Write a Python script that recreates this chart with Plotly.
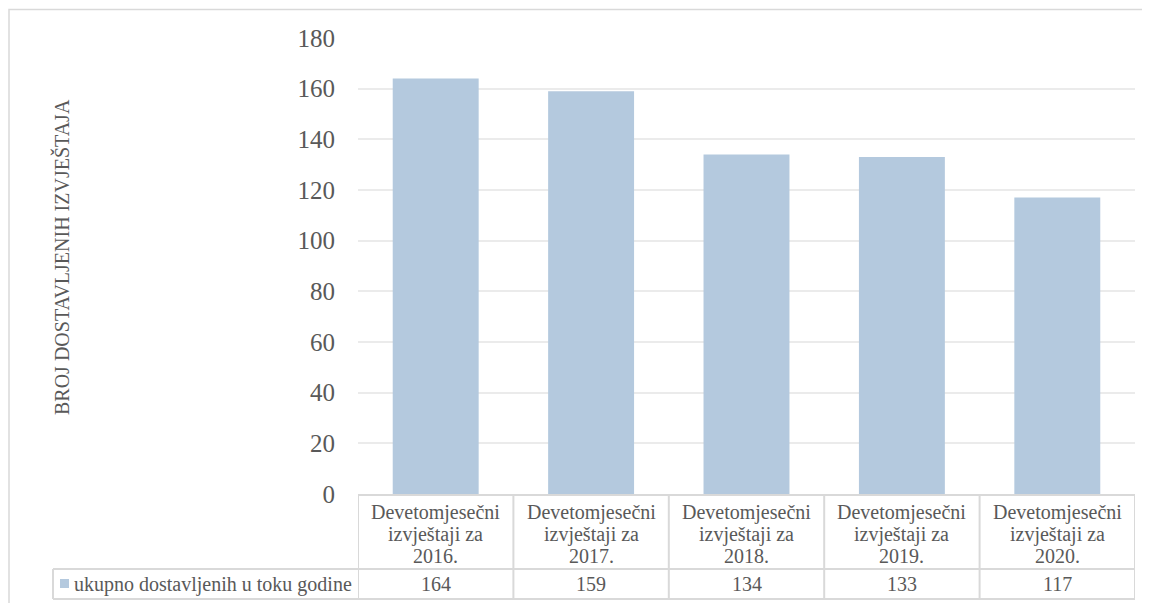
import plotly.graph_objects as go

categories = ["Devetomjesečni izvještaji za 2016.", "Devetomjesečni izvještaji za 2017.",
              "Devetomjesečni izvještaji za 2018.", "Devetomjesečni izvještaji za 2019.",
              "Devetomjesečni izvještaji za 2020."]
header_lines = [["Devetomjesečni", "izvještaji za", "2016."],
                ["Devetomjesečni", "izvještaji za", "2017."],
                ["Devetomjesečni", "izvještaji za", "2018."],
                ["Devetomjesečni", "izvještaji za", "2019."],
                ["Devetomjesečni", "izvještaji za", "2020."]]
values = [164, 159, 134, 133, 117]
series_name = "ukupno dostavljenih u toku godine"
y_title = "BROJ DOSTAVLJENIH IZVJEŠTAJA"
y_ticks = [0, 20, 40, 60, 80, 100, 120, 140, 160, 180]

OFF = 8  # browser body margin
W, H = 1150 - OFF, 603 - OFF
PL, PR, PT, PB = 358, 1135, 38, 494  # plot area in page pixels
L, T = PL - OFF, PT - OFF
R = W - (PR - OFF)
B = H - (PB - OFF)
PW, PH = PR - PL, PB - PT


def px(x):
    return (x - PL) / PW


def py(y):
    return (PB - y) / PH


FONT = "Liberation Serif"
TXT = "#595959"
LINE = "#d9d9d9"
BAR = "#b4c9de"

fig = go.Figure()
fig.add_trace(go.Bar(x=list(range(len(categories))), y=values, name=series_name,
                     marker=dict(color=BAR, line=dict(width=0)), width=0.553,
                     hoverinfo="y"))

shapes = []
shapes.append(dict(type="rect", xref="paper", yref="paper", x0=px(9), x1=px(1160),
                   y0=py(615), y1=py(9.5), line=dict(color=LINE, width=1.5)))
n = len(categories)
for i in range(n + 1):
    shapes.append(dict(type="line", xref="x", yref="paper", x0=i - 0.5, x1=i - 0.5,
                       y0=py(495), y1=py(599), line=dict(color=LINE, width=2)))
shapes.append(dict(type="line", xref="x", yref="paper", x0=-0.5, x1=n - 0.5,
                   y0=py(495), y1=py(495), line=dict(color=LINE, width=2)))
for yy in (569, 599):
    shapes.append(dict(type="line", xref="paper", yref="paper", x0=px(53), x1=1.0,
                       y0=py(yy), y1=py(yy), line=dict(color=LINE, width=2)))
shapes.append(dict(type="line", xref="paper", yref="paper", x0=px(53), x1=px(53),
                   y0=py(569), y1=py(599), line=dict(color=LINE, width=2)))
shapes.append(dict(type="rect", xref="paper", yref="paper", x0=px(60), x1=px(69),
                   y0=py(588), y1=py(579), fillcolor=BAR, line=dict(width=0)))

annotations = []
line_y = [512, 534, 556]
for i, lines in enumerate(header_lines):
    for j, t in enumerate(lines):
        annotations.append(dict(x=i, xref="x", y=py(line_y[j]), yref="paper", text=t,
                                showarrow=False, xanchor="center", yanchor="middle",
                                font=dict(family=FONT, size=20, color=TXT)))
    annotations.append(dict(x=i, xref="x", y=py(584), yref="paper", text=str(values[i]),
                            showarrow=False, xanchor="center", yanchor="middle",
                            font=dict(family=FONT, size=20, color=TXT)))
annotations.append(dict(x=px(72), xref="paper", y=py(584), yref="paper", text=series_name,
                        showarrow=False, xanchor="left", yanchor="middle",
                        font=dict(family=FONT, size=20, color=TXT)))
annotations.append(dict(x=px(61), xref="paper", y=py(257), yref="paper", text=y_title,
                        textangle=-90, showarrow=False, xanchor="center", yanchor="middle",
                        font=dict(family=FONT, size=20, color=TXT)))

fig.update_layout(
    width=W, height=H,
    margin=dict(l=L, r=R, t=T, b=B, autoexpand=False),
    paper_bgcolor="white", plot_bgcolor="white",
    showlegend=False,
    shapes=shapes, annotations=annotations,
    xaxis=dict(range=[-0.5, n - 0.5], showticklabels=False, showgrid=False,
               zeroline=False, showline=False, ticks=""),
    yaxis=dict(range=[0, 180], tickvals=y_ticks, showgrid=True, gridcolor="#ebebeb",
               gridwidth=1.5, zeroline=False, showline=False, ticks="",
               ticklabelstandoff=22,
               tickfont=dict(family=FONT, size=25, color=TXT)),
)

fig.write_html("out.html")
